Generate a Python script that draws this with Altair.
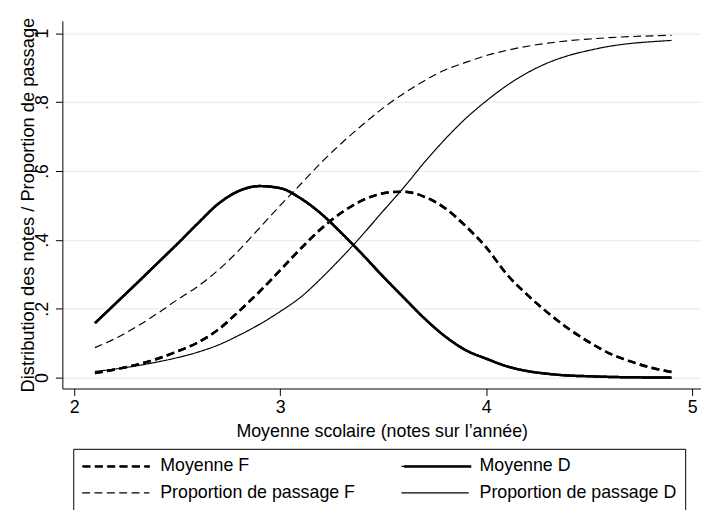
import altair as alt
import pandas as pd

# x grid: school average (notes sur l'année)
x_vals = [2.1, 2.2, 2.3, 2.4, 2.5, 2.6, 2.7, 2.8, 2.9, 3.0,
          3.1, 3.2, 3.3, 3.4, 3.5, 3.6, 3.7, 3.8, 3.9, 4.0,
          4.1, 4.2, 4.3, 4.4, 4.5, 4.6, 4.7, 4.8, 4.9]

moyenne_f = [0.013, 0.024, 0.037, 0.054, 0.076, 0.102, 0.140, 0.193, 0.250, 0.312,
             0.375, 0.433, 0.480, 0.515, 0.535, 0.540, 0.525, 0.492, 0.440, 0.378,
             0.300, 0.240, 0.188, 0.142, 0.103, 0.070, 0.047, 0.029, 0.016]

moyenne_d = [0.158, 0.215, 0.272, 0.330, 0.388, 0.448, 0.505, 0.542, 0.556, 0.550,
             0.520, 0.475, 0.418, 0.357, 0.293, 0.232, 0.172, 0.120, 0.080, 0.055,
             0.033, 0.019, 0.011, 0.006, 0.004, 0.002, 0.001, 0.0005, 0.0]

prop_f = [0.087, 0.114, 0.147, 0.185, 0.226, 0.265, 0.313, 0.370, 0.435, 0.500,
          0.562, 0.625, 0.682, 0.734, 0.783, 0.825, 0.862, 0.893, 0.915, 0.935,
          0.950, 0.962, 0.971, 0.978, 0.983, 0.987, 0.990, 0.992, 0.994]

prop_d = [0.018, 0.025, 0.034, 0.045, 0.058, 0.074, 0.095, 0.123, 0.155, 0.192,
          0.234, 0.289, 0.350, 0.415, 0.484, 0.552, 0.625, 0.692, 0.752, 0.803,
          0.848, 0.885, 0.914, 0.935, 0.950, 0.962, 0.970, 0.975, 0.979]

series_names = ["Moyenne F", "Moyenne D", "Proportion de passage F", "Proportion de passage D"]
series_values = [moyenne_f, moyenne_d, prop_f, prop_d]

x_ticks = [2, 3, 4, 5]
y_ticks = [0, 0.2, 0.4, 0.6, 0.8, 1]

rows = []
for name, vals in zip(series_names, series_values):
    for i, (xv, yv) in enumerate(zip(x_vals, vals)):
        rows.append({"serie": name, "x": xv, "y": yv, "ordre": i})
df = pd.DataFrame(rows)

FONT = "Liberation Sans"
DASH_F = [8, 4.5]
SOLID = [1, 0]

base = alt.Chart(df).encode(
    x=alt.X("x:Q",
            scale=alt.Scale(domain=[1.942, 5.043], nice=False, zero=False),
            axis=alt.Axis(values=x_ticks, title="Moyenne scolaire (notes sur l’année)",
                          grid=False, tickSize=7, labelPadding=3, labelFontSize=18,
                          titleFontSize=18, titleFontWeight="normal",
                          titleBaseline="alphabetic", titleY=49,
                          domainColor="#000000", tickColor="#000000",
                          labelColor="#000000", titleColor="#000000",
                          labelFlush=False)),
    y=alt.Y("y:Q",
            scale=alt.Scale(domain=[-0.0316, 1.036], nice=False, zero=False),
            axis=alt.Axis(values=y_ticks, title="Distribution des notes / Proportion de passage",
                          labelExpr="datum.value == 0 ? '0' : datum.value == 1 ? '1' : '.' + round(datum.value * 10)",
                          grid=True, gridColor="#E2E8F1", gridWidth=1,
                          tickSize=7, labelPadding=4, labelAngle=-90,
                          labelAlign="center", labelBaseline="bottom",
                          labelFontSize=18, titleFontSize=18.5, titleFontWeight="normal",
                          titleAngle=-90, titleBaseline="alphabetic", titleAlign="center",
                          titleX=-29, titleY=186,
                          domainColor="#000000", tickColor="#000000",
                          labelColor="#000000", titleColor="#000000",
                          labelFlush=False)),
    order="ordre:Q",
)

# All four curves, with the boxed legend (thin symbols)
all_lines = base.mark_line(color="black", strokeCap="butt", strokeJoin="round",
                           interpolate="monotone").encode(
    strokeDash=alt.StrokeDash("serie:N",
                              scale=alt.Scale(domain=series_names,
                                              range=[DASH_F, SOLID, DASH_F, SOLID]),
                              legend=alt.Legend(title=None, symbolStrokeWidth=1.2,
                                                strokeColor="#000000", fillColor="white",
                                                columnPadding=43, zindex=0)),
    strokeWidth=alt.condition("indexof(datum.serie, 'Moyenne') == 0",
                              alt.value(2.5), alt.value(1.2)),
)

# The two "Moyenne" curves again, giving thick symbols over the legend's first row
# (labels empty; column gap = 43 + width of "Proportion de passage F" at 18px)
moy_names = series_names[:2]
thick_lines = base.transform_filter(
    "indexof(datum.serie, 'Moyenne') == 0"
).mark_line(color="black", strokeCap="butt", strokeJoin="round",
            interpolate="monotone", strokeWidth=2.5).encode(
    strokeDash=alt.StrokeDash("serie:N",
                              scale=alt.Scale(domain=moy_names, range=[DASH_F, SOLID]),
                              legend=alt.Legend(
                                  title=None, symbolStrokeWidth=2.5,
                                  labelExpr="''",
                                  columnPadding=240.1,
                                  strokeColor="transparent", fillColor="transparent",
                                  zindex=1)),
)

chart = alt.layer(all_lines, thick_lines).resolve_scale(
    strokeDash="independent"
).properties(
    width=646,
    height=372,
    autosize=alt.AutoSizeParams(type="none"),
    padding={"left": 55, "top": 10, "right": 0, "bottom": 120},
).configure(
    font=FONT,
).configure_view(
    strokeWidth=0,
).configure_legend(
    orient="none",
    direction="horizontal",
    legendX=11,
    legendY=433,
    columns=2,
    symbolType="M-1,0H7",
    symbolSize=289,
    symbolStrokeColor="black",
    symbolFillColor="transparent",
    labelFontSize=18,
    labelColor="#000000",
    labelOffset=61,
    labelLimit=400,
    rowPadding=8,
    padding=8,
    gridAlign="each",
)

chart.save("out.html", embed_options={"renderer": "svg", "actions": False})
